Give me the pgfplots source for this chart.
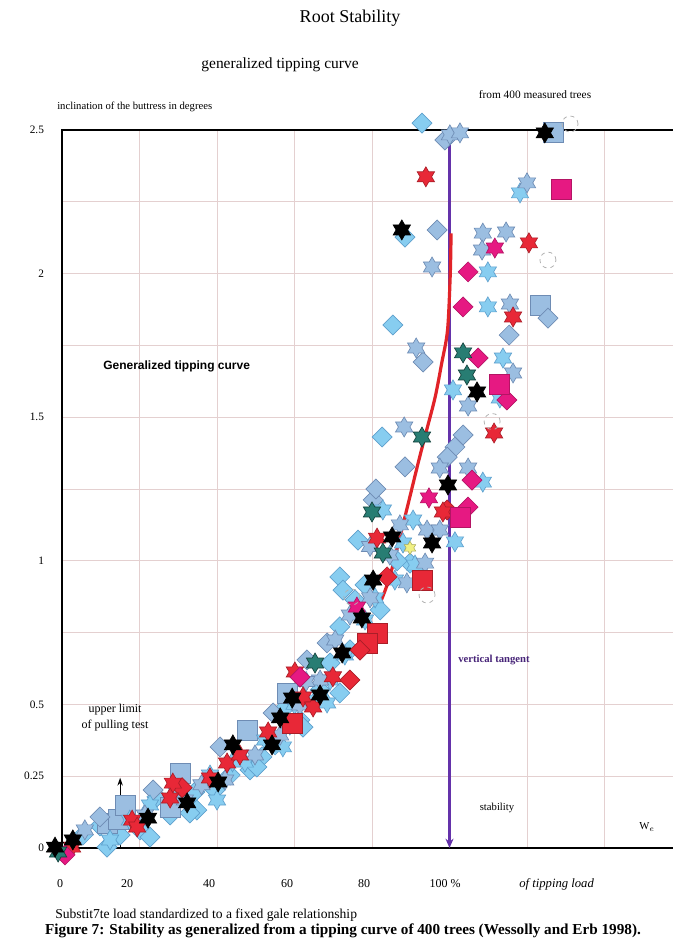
\documentclass[border=0pt]{standalone}
\usepackage{fontspec}
\setmainfont{Liberation Serif}
\newfontfamily\sansf{Liberation Sans}
\usepackage{pgfplots}
\pgfplotsset{compat=1.18}
\usetikzlibrary{arrows.meta}
\definecolor{gridc}{RGB}{228,208,208}
\definecolor{lbf}{RGB}{135,205,240}
\definecolor{lbe}{RGB}{95,160,205}
\definecolor{sbf}{RGB}{155,190,225}
\definecolor{sbe}{RGB}{110,140,180}
\definecolor{rdf}{RGB}{232,40,55}
\definecolor{rde}{RGB}{170,30,40}
\definecolor{mgf}{RGB}{230,25,130}
\definecolor{mge}{RGB}{180,20,100}
\definecolor{tlf}{RGB}{40,125,115}
\definecolor{tle}{RGB}{20,65,60}
\definecolor{purp}{RGB}{100,50,170}
\definecolor{curve}{RGB}{225,35,40}
\definecolor{ylw}{RGB}{240,240,130}
\pgfdeclareplotmark{hexstar}{%
 \pgfpathmoveto{\pgfpointpolar{90}{\pgfplotmarksize}}%
 \pgfpathlineto{\pgfpointpolar{120}{0.577*\pgfplotmarksize}}%
 \pgfpathlineto{\pgfpointpolar{150}{\pgfplotmarksize}}%
 \pgfpathlineto{\pgfpointpolar{180}{0.577*\pgfplotmarksize}}%
 \pgfpathlineto{\pgfpointpolar{210}{\pgfplotmarksize}}%
 \pgfpathlineto{\pgfpointpolar{240}{0.577*\pgfplotmarksize}}%
 \pgfpathlineto{\pgfpointpolar{270}{\pgfplotmarksize}}%
 \pgfpathlineto{\pgfpointpolar{300}{0.577*\pgfplotmarksize}}%
 \pgfpathlineto{\pgfpointpolar{330}{\pgfplotmarksize}}%
 \pgfpathlineto{\pgfpointpolar{0}{0.577*\pgfplotmarksize}}%
 \pgfpathlineto{\pgfpointpolar{30}{\pgfplotmarksize}}%
 \pgfpathlineto{\pgfpointpolar{60}{0.577*\pgfplotmarksize}}%
 \pgfpathclose
 \pgfusepathqfillstroke}
\pgfdeclareplotmark{rhomb}{%
 \pgfpathmoveto{\pgfqpoint{0pt}{\pgfplotmarksize}}%
 \pgfpathlineto{\pgfqpoint{\pgfplotmarksize}{0pt}}%
 \pgfpathlineto{\pgfqpoint{0pt}{-\pgfplotmarksize}}%
 \pgfpathlineto{\pgfqpoint{-\pgfplotmarksize}{0pt}}%
 \pgfpathclose
 \pgfusepathqfillstroke}
\begin{document}
\begin{tikzpicture}
\path[use as bounding box] (0,0) rectangle (504pt,706.5pt);
\begin{axis}[at={(46.5pt,70.5pt)}, anchor=south west, scale only axis,
 width=465pt, height=538.5pt, xmin=0, xmax=160, ymin=0, ymax=2.5,
 clip=false, axis line style={line width=1.5pt},
 xtick={0,20,40,60,80,100,120,140,160}, xticklabels={},
 ytick={0,0.25,0.5,0.75,1,1.25,1.5,1.75,2,2.25,2.5},
 yticklabels={0,0.25,0.5,{},1,{},1.5,{},2,{},2.5},
 grid=major, major grid style={gridc, line width=0.5pt},
 major tick length=0pt,
 yticklabel style={font=\fontsize{8.5}{10}\selectfont, xshift=-10pt},
 /pgf/number format/assume math mode=true]
% vertical tangent and curve
\addplot[purp, line width=1.8pt, -{Stealth[length=7pt,width=6pt]}] coordinates {(100,2.46) (100,0)};
\addplot[black, line width=0.8pt, -{Stealth[length=6pt,width=4pt]}] coordinates {(15,0) (15,0.245)};
\addplot[curve, line width=2.4pt, smooth] coordinates {(82,0.85) (84.6,0.945) (88.5,1.153) (91.9,1.340) (94.1,1.455) (96.3,1.570) (98.0,1.689) (99.5,1.804) (100.2,2.0) (100.4,2.14)};
% light blue diamonds
\addplot[only marks, mark=rhomb, mark size=7.5pt, mark options={fill=lbf, draw=lbe, line width=0.5pt}] coordinates {
(92.9,2.524)(88.5,2.127)(85.4,1.821)(82.6,1.431)(76.4,1.072)(71.7,0.944)(89.8,0.992)
(5.4,0.045)(9.8,0.077)(15.0,0.045)(20.1,0.063)(24.5,0.178)(27.9,0.115)(34.3,0.195)
(34.8,0.132)(39.5,0.202)(43.4,0.254)(48.5,0.272)(51.6,0.317)(57.0,0.481)(55.0,0.359)
(61.4,0.446)(62.7,0.515)(66.6,0.550)(69.2,0.644)(71.7,0.770)(74.3,0.690)(75.6,0.864)
(72.5,0.898)(82.1,0.829)(78.2,0.916)(86.5,1.00)
(11.6,0.003)(22.7,0.038)(33.0,0.122)(50.3,0.282)(62.2,0.421)(71.7,0.540)};
% steel blue squares
\addplot[only marks, mark=square*, mark size=7.5pt, mark options={fill=sbf, draw=sbe, line width=0.5pt}] coordinates {
(126.7,2.493)(123.4,1.891)(11.6,0.087)(14.5,0.10)(28,0.14)(16.3,0.150)(30.5,0.261)(47.7,0.411)(58.1,0.540)};
% steel blue diamonds
\addplot[only marks, mark=rhomb, mark size=7.5pt, mark options={fill=sbf, draw=sbe, line width=0.5pt}] coordinates {
(96.8,2.152)(115.4,1.786)(93.2,1.692)(103.5,1.438)(101.4,1.396)(99.4,1.361)(88.5,1.327)
(80.3,1.212)(98.8,2.465)(125.4,1.845)(81,1.25)
(9.8,0.108)(23.5,0.202)(40.8,0.352)(54.5,0.470)(63.2,0.655)(68.4,0.714)};
% light blue stars
\addplot[only marks, mark=hexstar, mark size=7.5pt, mark options={fill=lbf, draw=lbe, line width=0.5pt}] coordinates {
(118.2,2.281)(109.9,2.006)(109.9,1.884)(113.8,1.706)(113.0,1.567)(100.9,1.595)(108.6,1.274)
(82.8,1.177)(90.6,1.142)(88.0,1.062)(101.4,1.066)(17.5,0.097)(29.2,0.202)(38.2,0.254)
(47.2,0.299)(52.4,0.376)(58.8,0.428)(65.3,0.515)(69.2,0.585)(73.0,0.672)(78.2,0.794)
(80.8,0.871)(85.9,0.933)(91.1,0.985)(12.4,0.028)(22.7,0.150)(44,0.30)(60,0.50)
(40.0,0.167)(57.0,0.352)(68.4,0.505)};
% steel blue stars
\addplot[only marks, mark=hexstar, mark size=7.5pt, mark options={fill=sbf, draw=sbe, line width=0.5pt}] coordinates {
(100.1,2.483)(102.7,2.49)(120.0,2.316)(108.6,2.141)(114.6,2.145)(108.4,2.082)(95.5,2.023)
(115.6,1.894)(91.4,1.741)(116.4,1.654)(104.8,1.539)(88.3,1.466)(97.5,1.323)(104.8,1.323)
(94.2,1.107)(97.5,1.107)(93.7,0.992)(89.0,0.923)(21.4,0.115)(31.7,0.167)(42.1,0.237)
(49.8,0.324)(56.3,0.393)(61.4,0.498)(66.6,0.585)(70.5,0.724)(74.3,0.811)(79.5,0.871)
(84.6,1.020)(87.2,1.125)(5.9,0.063)(36,0.22)(63,0.58)(79.5,1.05)};
% red squares
\addplot[only marks, mark=square*, mark size=7.5pt, mark options={fill=rdf, draw=rde, line width=0.5pt}] coordinates {
(59.4,0.435)(81.3,0.749)(78.7,0.714)(92.9,0.933)};
% red diamonds
\addplot[only marks, mark=rhomb, mark size=7.5pt, mark options={fill=rdf, draw=rde, line width=0.5pt}] coordinates {
(74.3,0.585)(83.9,0.944)(99.4,1.177)(76.9,0.689)(31,0.21)};
% red stars
\addplot[only marks, mark=hexstar, mark size=7.5pt, mark options={fill=rdf, draw=rde, line width=0.5pt}] coordinates {
(93.9,2.337)(120.5,2.107)(116.4,1.849)(111.5,1.445)(81.3,1.079)(98.3,1.170)(2.6,0.003)
(18.1,0.097)(28.6,0.226)(27.9,0.174)(38.2,0.244)(42.6,0.296)(45.9,0.324)(53.2,0.404)
(62.2,0.526)(64.8,0.491)(60.1,0.613)(69.9,0.596)(19.4,0.073)};
% magenta diamonds
\addplot[only marks, mark=rhomb, mark size=7.5pt, mark options={fill=mgf, draw=mge, line width=0.5pt}] coordinates {
(104.8,2.006)(103.5,1.884)(107.4,1.706)(114.8,1.560)(105.8,1.281)(104.8,1.187)(61.4,0.595)(0.8,-0.024)};
% magenta squares
\addplot[only marks, mark=square*, mark size=7.5pt, mark options={fill=mgf, draw=mge, line width=0.5pt}] coordinates {
(128.8,2.295)(112.8,1.616)(102.7,1.153)};
% magenta stars
\addplot[only marks, mark=hexstar, mark size=7.5pt, mark options={fill=mgf, draw=mge, line width=0.5pt}] coordinates {
(111.7,2.089)(94.7,1.219)(76.1,0.839)};
% teal stars
\addplot[only marks, mark=hexstar, mark size=7.5pt, mark options={fill=tlf, draw=tle, line width=0.5pt}] coordinates {
(103.5,1.724)(104.5,1.647)(92.9,1.431)(80.0,1.170)(82.8,1.027)(65.3,0.644)(-1.0,-0.014)};
% black stars
\addplot[only marks, mark=hexstar, mark size=7.5pt, mark options={fill=black, draw=black, line width=0.5pt}] coordinates {
(124.6,2.490)(87.7,2.152)(107.1,1.588)(99.6,1.264)(85.2,1.083)(95.5,1.062)(80.3,0.933)
(77.4,0.801)(72.3,0.679)(66.6,0.533)(59.4,0.522)(56.3,0.453)(54.2,0.359)(44.1,0.359)
(40.3,0.230)(32.3,0.157)(22.2,0.104)(2.8,0.028)(-1.8,0.003)};
% yellow star
\addplot[only marks, mark=hexstar, mark size=5pt, mark options={fill=ylw, draw=ylw!70!black, line width=0.4pt}] coordinates {(89.8,1.045)};
% dashed circles
\addplot[only marks, mark=o, mark size=6pt, mark options={draw=gray!60, dashed, line width=0.6pt}] coordinates {
(131.1,2.521)(125.4,2.047)(111.0,1.485)(94.2,0.881)(74.8,0.874)};
\end{axis}
% texts
\node[font=\fontsize{13.5}{16}\selectfont] at (262.5pt,693pt) {Root Stability};
\node[font=\fontsize{11.6}{14}\selectfont] at (210pt,657.75pt) {generalized tipping curve};
\node[anchor=west, inner sep=0pt, font=\fontsize{8}{10}\selectfont] at (42.75pt,626.25pt) {inclination of the buttress in degrees};
\node[font=\fontsize{8.5}{10}\selectfont] at (401.25pt,635.25pt) {from 400 measured trees};
\node[anchor=west, inner sep=0pt, font=\sansf\bfseries\fontsize{9}{11}\selectfont] at (77.25pt,432pt) {Generalized tipping curve};
\node[font=\fontsize{9}{11}\selectfont] at (86.25pt,174pt) {upper limit};
\node[font=\fontsize{9}{11}\selectfont] at (86.25pt,162pt) {of pulling test};
\node[anchor=west, inner sep=0pt, text=purp!70!black, font=\bfseries\fontsize{8}{10}\selectfont] at (343.5pt,211.5pt) {vertical tangent};
\node[font=\fontsize{8}{10}\selectfont] at (372.75pt,100.5pt) {stability};
\node[font=\fontsize{8}{10}\selectfont] at (485.25pt,86.25pt) {W$_e$};
\foreach \xx/\tt in {45/0,95.25/20,156.75/40,215.25/60,273/80,333.75/{100 \%}}
  \node[font=\fontsize{9}{11}\selectfont] at (\xx pt,43.5pt) {\tt};
\node[anchor=west, inner sep=0pt, font=\itshape\fontsize{9.5}{11}\selectfont] at (389.25pt,43.5pt) {of tipping load};
\node[anchor=west, inner sep=0pt, font=\fontsize{10.2}{12}\selectfont] at (41.25pt,20.25pt) {Substit7te load standardized to a fixed gale relationship};
\node[font=\bfseries\fontsize{11.4}{13}\selectfont] at (257.25pt,8.25pt) {Figure 7: Stability as generalized from a tipping curve of 400 trees (Wessolly and Erb 1998).};
\end{tikzpicture}
\end{document}
